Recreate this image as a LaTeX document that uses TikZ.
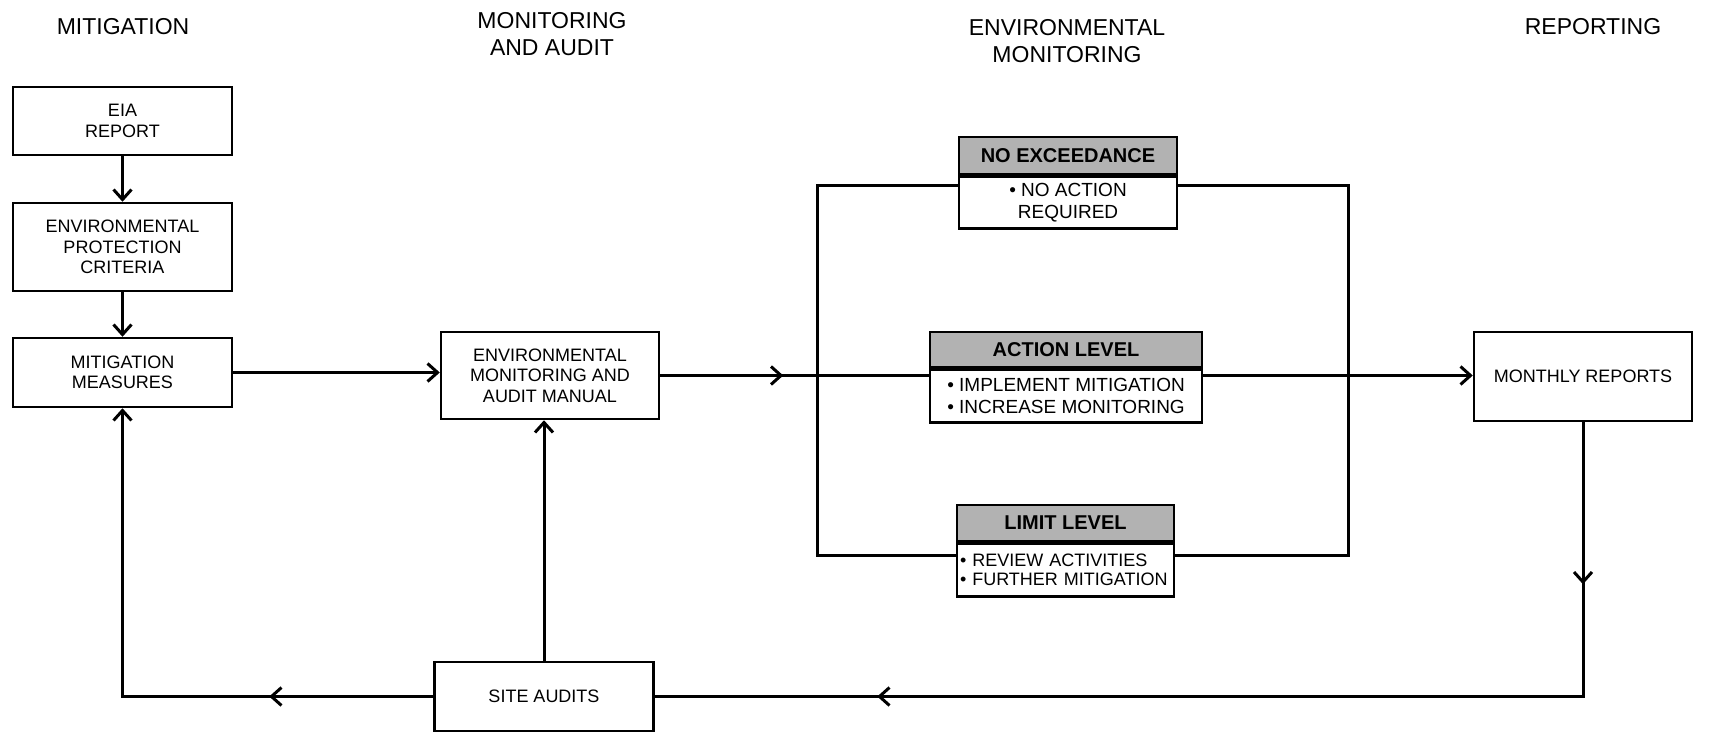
\documentclass[tikz,border=0pt]{standalone}
\usepackage{fontspec}
\setmainfont{Liberation Sans}
\usetikzlibrary{arrows.meta,decorations.markings}
\begin{document}
\begin{tikzpicture}[x=1pt,y=-1pt,
  >={Straight Barb[length=10pt,width=18pt]},
  conn/.style={line width=3pt},
  arr/.style={->},
  midarr/.style={postaction={decorate,decoration={markings,mark=at position #1 with {\arrow{>}}}}},
  box/.style={draw,line width=2.5pt,fill=white,inner sep=2pt,align=center,font=\fontsize{18}{20.5}\selectfont},
  lvlhead/.style={draw,line width=2.5pt,fill=gray!60,inner sep=1pt,align=center,font=\fontsize{20}{22}\selectfont\bfseries},
  lvlbody/.style={draw,line width=2.5pt,fill=white,inner sep=2pt,align=center,font=\fontsize{19}{21.5}\selectfont},
  title/.style={align=center,inner sep=0pt,font=\fontsize{23}{26.5}\selectfont}
]
\useasboundingbox (0,0) rectangle (1709,741);

% titles
\node[title] (t1) at (123,27) {MITIGATION};
\node[title] (t2) at (552,34) {MONITORING\\AND AUDIT};
\node[title] (t3) at (1067,41) {ENVIRONMENTAL\\MONITORING};
\node[title] (t4) at (1593,27) {REPORTING};

% loop corners
\coordinate (lt) at (817,186);
\coordinate (lb) at (817,555);
\coordinate (rt) at (1348,186);
\coordinate (rb) at (1348,555);

% main boxes
\node[box,minimum width=219pt,minimum height=68pt] (eia) at (122.5,121) {EIA\\REPORT};
\node[box,minimum width=219pt,minimum height=88pt] (epc) at (122.5,247) {ENVIRONMENTAL\\PROTECTION\\CRITERIA};
\node[box,minimum width=219pt,minimum height=69pt] (mm) at (122.5,372.5) {MITIGATION\\MEASURES};
\node[box,minimum width=218pt,minimum height=87pt] (emam) at (550,375.5) {ENVIRONMENTAL\\MONITORING AND\\AUDIT MANUAL};
\node[box,minimum width=219pt,minimum height=69pt] (sa) at (544,696.5) {SITE AUDITS};
\node[box,minimum width=218pt,minimum height=89pt] (mr) at (1583,376.5) {MONTHLY REPORTS};

% loop lines (drawn before level boxes)
\draw[conn] (1068,200 |- lt) -- (lt) -- (lb) -- (1065,567 |- lb);
\draw[conn] (1068,200 |- rt) -- (rt) -- (rb) -- (1065,567 |- rb);

% level boxes
\node[lvlhead,minimum width=218pt,minimum height=37pt] (nohead) at (1068,155.5) {NO EXCEEDANCE};
\node[lvlbody,minimum width=218pt,minimum height=52pt,anchor=north] (nobody) at (nohead.south) {• NO ACTION\\REQUIRED};
\node[lvlhead,minimum width=272pt,minimum height=35pt] (acthead) at (1066,349.5) {ACTION LEVEL};
\node[lvlbody,minimum width=272pt,minimum height=53pt,anchor=north] (actbody) at (acthead.south) {• IMPLEMENT MITIGATION\\• INCREASE MONITORING};
\node[lvlhead,minimum width=217pt,minimum height=36pt] (limhead) at (1065.5,523) {LIMIT LEVEL};
\node[lvlbody,minimum width=217pt,minimum height=53pt,anchor=north,align=left,text width=211pt,font=\fontsize{18}{19}\selectfont] (limbody) at (limhead.south) {• REVIEW ACTIVITIES\\• FURTHER MITIGATION};

% connectors
\draw[conn,arr] (eia) -- (epc);
\draw[conn,arr] (epc) -- (mm);
\draw[conn,arr] (mm.east) -- (mm.east -| emam.west);
\draw[conn,midarr=123pt] (emam.east) -- (emam.east -| actbody.west);
\draw[conn,arr] (actbody.east |- emam.east) -- (mr.west |- emam.east);
\draw[conn,arr] (sa.north) -- (sa.north |- emam.south);
\draw[conn,arr,midarr=164pt] (sa.west) -| (mm.south);
\draw[conn,midarr=162pt,midarr=980pt] (mr.south) |- (sa.east);
\end{tikzpicture}
\end{document}
